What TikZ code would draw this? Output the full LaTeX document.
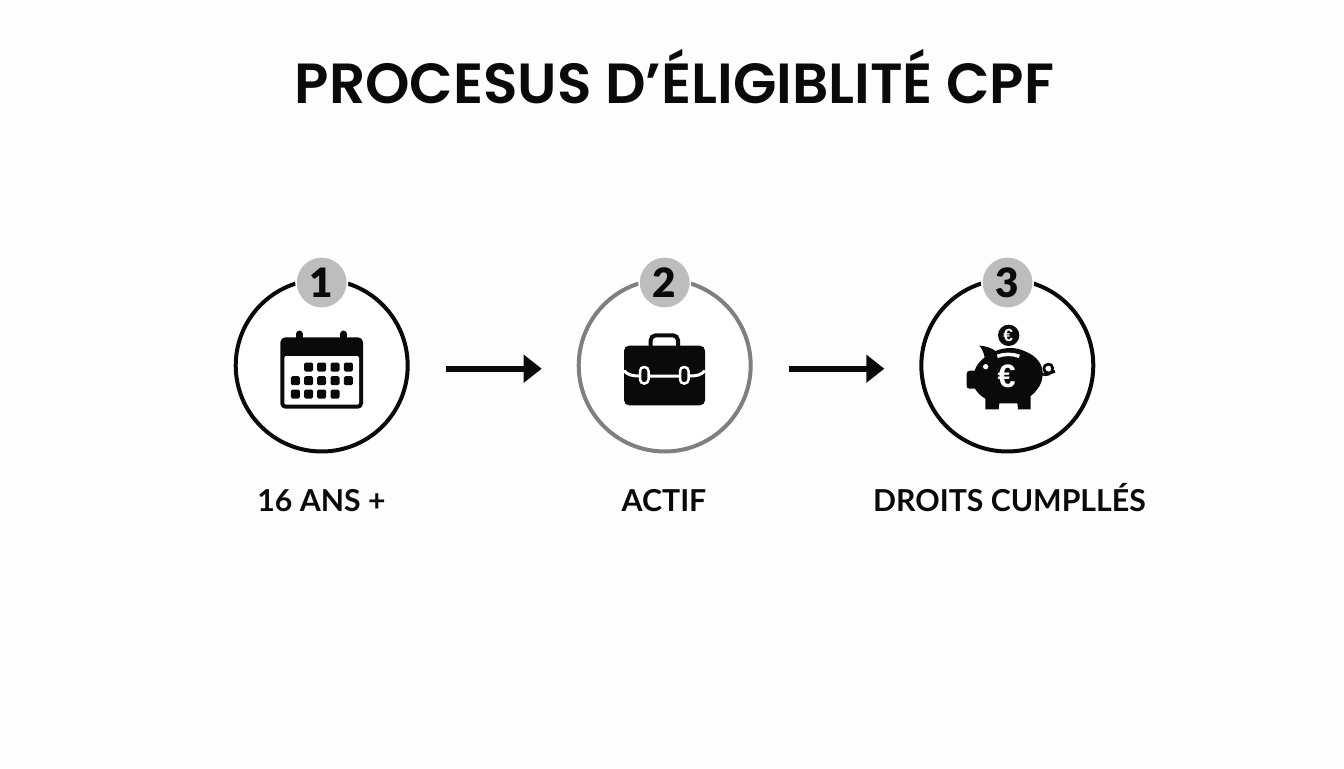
\documentclass[tikz,border=0pt]{standalone}
\usepackage{fontspec}
\setmainfont{Lato}
\newfontfamily\titlefont{Poppins SemiBold}
\newfontfamily\digitfont{Lato Black}
\newfontfamily\eurofont{Liberation Sans}
\usetikzlibrary{arrows.meta}
\definecolor{pagecolor}{HTML}{FDFDFD}
\definecolor{inkcolor}{HTML}{0A0A0A}
\definecolor{badgecolor}{HTML}{BDBDBD}
\definecolor{midcolor}{HTML}{7F7F7F}
\newcommand{\thickness}{0.08cm}
\tikzset{
  ringnode/.style={circle,draw=inkcolor,fill=white,line width=\thickness,minimum size=3.44cm,inner sep=0pt},
  badgenode/.style={circle,fill=badgecolor,draw=white,line width=0.03cm,minimum size=1.03cm,inner sep=0pt,text=inkcolor,font=\digitfont\fontsize{23}{23}\selectfont},
  labelnode/.style={text=inkcolor,inner sep=0pt,anchor=base,font=\fontsize{17.2}{17.2}\selectfont\bfseries},
  flowarrow/.style={draw=inkcolor,line width=0.125cm,shorten <=0.72cm,shorten >=0.7cm,-{Triangle[length=0.36cm,width=0.54cm]}},
  dotsquare/.style={fill=inkcolor,rounded corners=0.03cm},
  eurowhite/.style={text=white,inner sep=0pt,font=\eurofont\bfseries}
}

\begin{document}
\begin{tikzpicture}[x=0.02cm,y=-0.02cm]
\fill[pagecolor] (0,0) rectangle (1344,768);
\useasboundingbox (0,0) rectangle (1344,768);
\node[text=inkcolor,inner sep=0pt,anchor=base,font=\titlefont\fontsize{32.2}{32.2}\selectfont] (title) at (674.5,103.5) {PROCESUS D’ÉLIGIBLITÉ CPF};
%rings
\node[ringnode] (ring1) at (321.7,365.5) {};
\node[ringnode,draw=midcolor] (ring2) at (664.7,365.5) {};
\node[ringnode] (ring3) at (1007.3,365.5) {};
\node[badgenode] (badge1) at (321.7,282.5) {1};
\node[badgenode] (badge2) at (664.7,282.5) {2};
\node[badgenode] (badge3) at (1007.5,282.5) {3};
%arrows
\draw[flowarrow] ([yshift=-0.064cm]ring1.east) -- ([yshift=-0.064cm]ring2.west);
\draw[flowarrow] ([yshift=-0.064cm]ring2.east) -- ([yshift=-0.064cm]ring3.west);
%labels
\node[labelnode] (label1) at (321.5,511) {16 ANS +};
\node[labelnode] (label2) at (664,511) {ACTIF};
\node[labelnode] (label3) at (1009.5,511) {DROITS CUMPLLÉS};
%calendar
\draw[inkcolor,line width=0.14cm,line cap=round] (299.3,334) -- (299.3,342);
\draw[inkcolor,line width=0.14cm,line cap=round] (343.7,334) -- (343.7,342);
\fill[inkcolor,rounded corners=0.1cm] (280.3,337.3) rectangle (363,408.7);
\fill[white,rounded corners=0.04cm] (284.3,356) rectangle (359,404.7);
\fill[dotsquare] (304.2,362.5) rectangle ++(9,9);
\fill[dotsquare] (317.2,362.5) rectangle ++(9,9);
\fill[dotsquare] (330.5,362.5) rectangle ++(9,9);
\fill[dotsquare] (343.8,362.5) rectangle ++(9,9);
\fill[dotsquare] (290.8,376.2) rectangle ++(9,9);
\fill[dotsquare] (304.2,376.2) rectangle ++(9,9);
\fill[dotsquare] (317.2,376.2) rectangle ++(9,9);
\fill[dotsquare] (330.5,376.2) rectangle ++(9,9);
\fill[dotsquare] (343.8,376.2) rectangle ++(9,9);
\fill[dotsquare] (290.8,389.5) rectangle ++(9,9);
\fill[dotsquare] (304.2,389.5) rectangle ++(9,9);
\fill[dotsquare] (317.2,389.5) rectangle ++(9,9);
\fill[dotsquare] (330.5,389.5) rectangle ++(9,9);
%briefcase
\draw[inkcolor,line width=0.08cm,rounded corners=0.1cm] (650.7,347) -- (650.7,335.3) -- (678,335.3) -- (678,347);
\fill[inkcolor,rounded corners=0.1cm] (624,345.7) rectangle (705,405.3);
\draw[white,line width=0.06cm] (624,370.7) .. controls (628,375) and (632,376) .. (640,376) -- (689,376) .. controls (697,376) and (701,375) .. (705,370.7);
\draw[white,fill=inkcolor,line width=0.05cm,rounded corners=0.08cm] (640,367) rectangle (648.5,383.5);
\draw[white,fill=inkcolor,line width=0.05cm,rounded corners=0.08cm] (680,367) rectangle (688.5,383.5);
%piggy
\begin{scope}[shift={(910,260)},scale=1/3]
\draw[inkcolor,line width=0.055cm] (396,342) .. controls (408,348) and (428,342) .. (428,324) .. controls (428,308) and (400,308) .. (402,328) .. controls (404,342) and (420,340) .. (435,334);
\fill[inkcolor] (208,257) .. controls (228,258) and (245,264) .. (256,273) .. controls (285,261) and (320,261) .. (345,274) .. controls (380,288) and (398,312) .. (398,340) .. controls (398,370) and (382,392) .. (362,408) -- (362,448) -- (324,448) -- (322,430) -- (268,430) -- (266,448) -- (226,448) -- (226,416) .. controls (212,408) and (202,398) .. (195,386) -- (178,386) .. controls (172,386) and (170,382) .. (170,376) -- (170,342) .. controls (170,335) and (174,332) .. (180,332) -- (194,332) .. controls (198,318) and (208,304) .. (224,292) .. controls (222,280) and (216,266) .. (208,257) -- cycle;
\fill[white] (227,320) circle (8);
\draw[white,line width=0.07cm] (262,289) .. controls (282,281) and (308,281) .. (328,289);
\fill[inkcolor] (296,226) circle (32);
\node[eurowhite,font=\eurofont\bfseries\fontsize{10}{10}\selectfont] (coineuro) at (295,226) {€};
\node[eurowhite,font=\eurofont\bfseries\fontsize{18.5}{18.5}\selectfont] (pigeuro) at (290,350) {€};
\end{scope}
\end{tikzpicture}
\end{document}
